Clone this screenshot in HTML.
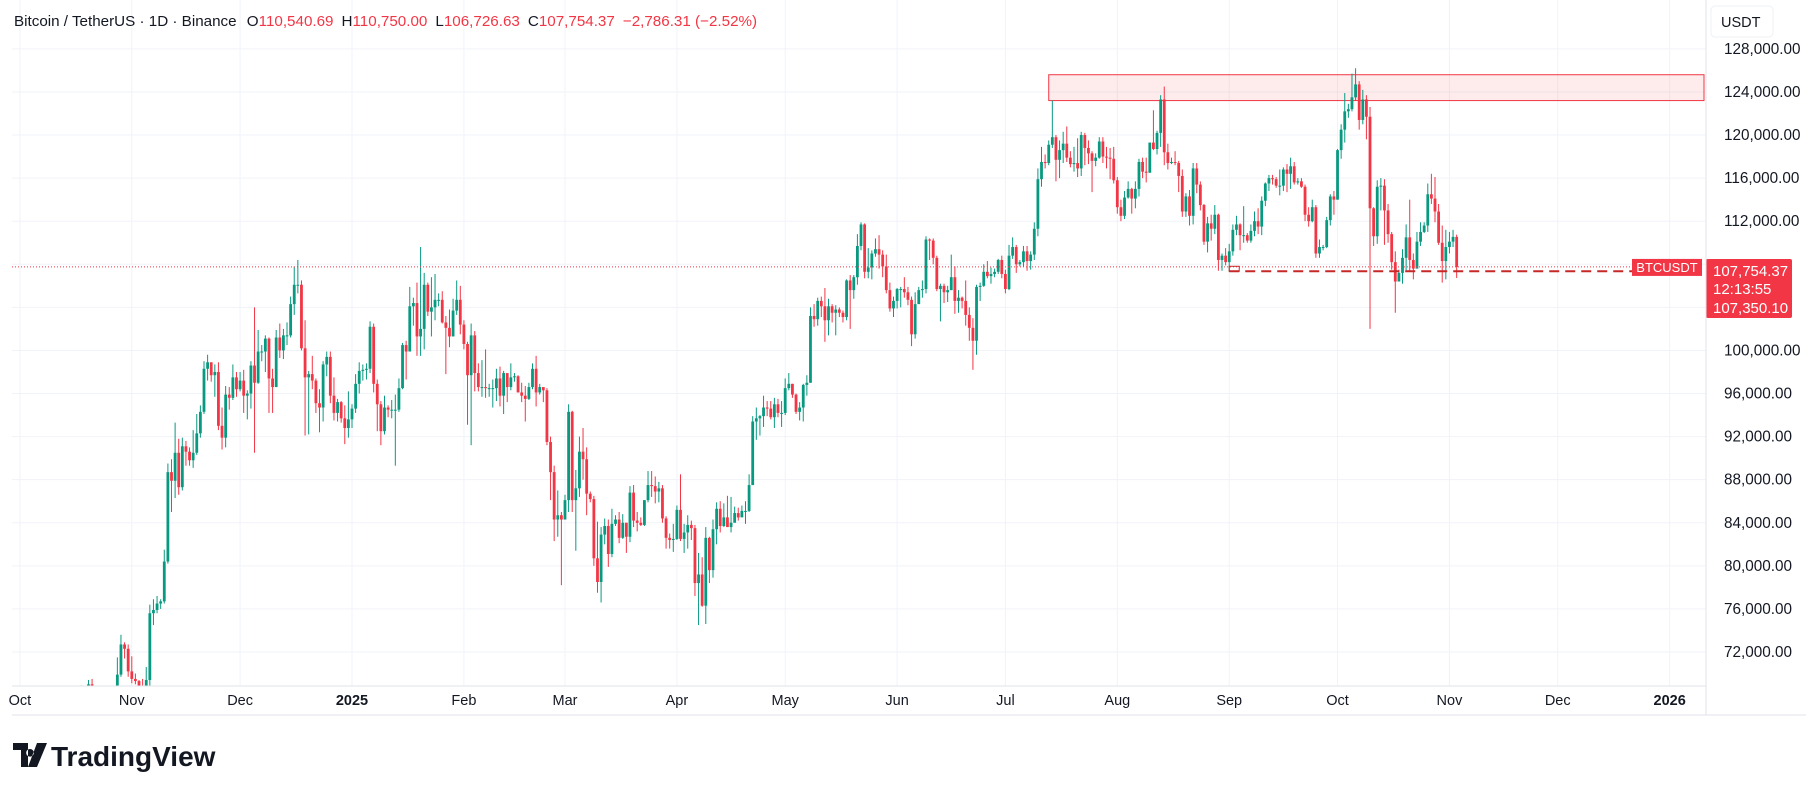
<!DOCTYPE html>
<html><head><meta charset="utf-8"><style>
html,body{margin:0;padding:0;background:#fff;width:1814px;height:791px;overflow:hidden}
svg{display:block;font-family:"Liberation Sans",sans-serif}
</style></head><body>
<svg id="chart" width="1814" height="791" viewBox="0 0 1814 791" xmlns="http://www.w3.org/2000/svg">
<defs><clipPath id="plotClip"><rect x="12" y="0" width="1694" height="686"/></clipPath></defs>
<rect x="0" y="0" width="1814" height="791" fill="#fff"/>
<g id="grid"></g>
<g id="zones" clip-path="url(#plotClip)"></g>
<g id="candles" clip-path="url(#plotClip)"></g>
<g id="overlay"></g>
<line x1="12" y1="715" x2="1806" y2="715" stroke="#e0e3eb"/>
<line x1="1706" y1="0" x2="1706" y2="715" stroke="#e0e3eb"/>
<line x1="12" y1="686" x2="1706" y2="686" stroke="#e0e3eb"/>
<g id="yaxis"></g>
<g id="xaxis"></g>
<text x="14" y="26" font-size="15.2" fill="#131722">Bitcoin / TetherUS · 1D · Binance <tspan dx="6">O</tspan><tspan fill="#f23645">110,540.69</tspan><tspan dx="8">H</tspan><tspan fill="#f23645">110,750.00</tspan><tspan dx="8">L</tspan><tspan fill="#f23645">106,726.63</tspan><tspan dx="8">C</tspan><tspan fill="#f23645">107,754.37</tspan><tspan dx="8" fill="#f23645">−2,786.31 (−2.52%)</tspan></text>
<rect x="1711" y="6" width="62" height="31" rx="4" fill="#fff" stroke="#eef0f4"/>
<text x="1721" y="27" font-size="14.5" fill="#131722">USDT</text>
<g>
<path d="M13 743h15v24h-7v-17h-8z M30 749a3.8 3.8 0 1 0 0.01 0z M37 743h10l-10 24h-9z" fill="#131722"/>
<text x="51" y="766" font-size="28" font-weight="bold" fill="#131722">TradingView</text>
</g>
</svg>
<script>
// start date index (days from 2025-01-01) of first candle = 2024-10-14
const startDay = -79;
const closes = [
66.0,67.0,67.6,67.4,68.4,68.4,69.0,67.4,67.4,66.7,68.2,66.6,67.0,67.9,69.9,72.7,72.3,70.2,
69.5,69.3,68.7,67.8,69.4,75.6,75.9,76.5,76.7,80.4,88.7,87.9,90.5,87.3,91.1,90.6,89.8,90.5,92.3,94.3,98.3,98.9,97.7,98.0,93.0,91.9,95.9,95.6,97.5,96.4,
97.2,95.8,96.0,98.6,97.0,99.9,99.9,101.1,97.4,96.6,101.2,100.0,101.4,101.4,104.3,106.1,106.1,100.2,97.5,97.8,97.2,95.1,94.7,98.7,99.4,95.8,94.2,95.2,93.7,92.8,93.6,
94.6,96.9,98.1,98.2,98.3,102.2,96.9,95.0,92.5,94.7,94.5,94.5,94.5,96.5,100.5,99.9,104.1,104.4,101.3,102.0,106.1,103.6,104.0,104.7,104.7,102.6,102.1,101.3,103.7,104.7,102.4,
100.6,97.7,101.4,97.9,96.6,96.6,96.5,96.5,96.5,97.4,95.8,97.9,96.6,97.5,97.6,96.1,95.8,95.5,96.6,98.3,96.1,96.6,96.3,91.5,88.7,84.3,84.7,84.3,
86.1,94.3,86.1,87.2,90.6,89.9,86.7,86.2,80.7,78.5,82.9,83.7,81.1,83.9,84.3,82.6,84.0,82.7,86.8,84.2,84.0,83.8,86.1,87.5,87.4,86.9,87.2,84.4,82.6,82.4,82.5,
85.2,82.5,83.1,83.8,83.5,78.4,79.2,76.3,82.6,79.6,83.4,85.3,83.7,84.5,83.6,84.0,84.9,84.5,85.1,85.1,87.5,93.4,93.7,93.9,94.7,94.6,93.8,95.0,94.2,94.2,
96.5,96.9,95.9,94.3,94.7,96.8,97.0,103.2,102.9,104.6,104.1,102.8,104.1,103.5,103.8,103.5,103.1,106.5,105.6,106.8,109.7,111.7,107.3,107.7,109.0,109.4,108.9,107.8,105.6,103.9,104.6,
105.7,105.7,105.4,104.7,101.5,104.3,105.6,105.7,110.3,110.2,108.6,105.7,106.0,105.4,105.6,106.8,104.6,104.9,104.6,103.3,102.1,100.9,105.9,106.0,107.3,106.9,107.1,107.3,108.4,107.1,
105.7,108.8,109.6,108.0,108.2,109.2,108.3,108.9,111.3,115.9,117.5,117.4,119.1,119.8,117.7,118.6,119.2,117.9,117.3,117.4,116.9,120.0,118.8,118.3,117.6,117.9,119.4,118.0,117.9,117.8,115.8,
113.3,112.5,114.2,115.0,114.1,115.0,117.5,116.6,116.5,119.3,118.7,120.2,123.3,118.4,117.4,117.5,117.4,116.2,112.9,114.3,112.5,116.9,115.4,113.5,110.1,111.8,111.3,112.6,108.4,108.8,108.2,
109.2,111.2,111.7,110.7,110.7,110.2,111.1,112.0,111.5,113.9,115.5,116.0,115.9,115.3,115.3,116.8,116.4,117.1,115.6,115.7,115.2,112.6,112.0,113.3,109.0,109.6,109.6,112.1,114.3,114.0,
118.6,120.5,122.2,122.4,123.5,124.7,121.4,123.3,121.7,113.2,110.6,115.2,115.3,113.0,110.8,108.2,106.4,107.2,108.6,110.5,108.4,107.6,110.1,111.0,111.6,114.5,114.1,112.9,110.0,108.3,109.6,
110.1,110.54,107.754
];
const highs = [
66.5,67.9,68.4,68.0,68.9,68.7,69.4,69.5,67.8,67.5,68.8,68.8,67.5,68.2,71.5,73.6,72.9,72.7,
71.6,70.0,69.4,69.5,70.6,76.4,76.9,77.2,76.9,81.5,89.5,89.9,93.3,91.8,91.9,91.6,91.0,92.6,94.1,94.9,99.0,99.6,98.9,98.7,98.9,94.7,96.7,96.6,98.7,98.0,
98.0,98.2,96.3,99.0,104.0,101.9,100.5,101.4,101.2,98.3,101.9,102.5,102.0,102.6,105.0,107.8,108.4,106.5,102.8,98.1,99.5,97.4,96.4,99.0,99.9,99.9,97.5,95.5,95.3,94.9,96.2,
95.0,97.8,98.9,98.7,98.8,102.7,102.5,97.3,95.3,95.8,94.9,95.4,95.9,97.4,100.7,100.9,105.9,104.9,106.3,109.6,107.2,106.3,106.8,107.1,105.3,105.5,103.2,103.8,104.8,106.5,106.0,
102.8,100.8,102.5,101.8,98.8,99.1,100.1,96.9,97.3,98.3,98.5,98.1,97.2,98.8,97.9,97.7,97.0,96.7,97.0,98.8,99.5,96.9,96.5,96.5,92.0,89.3,87.0,85.0,
86.6,95.0,94.4,88.9,92.0,92.8,91.0,86.9,86.5,84.1,83.6,84.4,84.3,85.3,84.7,85.0,84.8,84.0,87.4,87.5,85.0,84.5,86.1,88.8,88.8,88.3,87.8,87.5,84.6,83.0,83.9,
85.6,88.5,83.9,84.7,84.2,83.8,81.2,80.8,83.6,82.7,84.3,85.9,86.0,85.8,86.5,86.4,85.5,85.4,85.6,86.0,88.5,93.9,94.7,94.0,95.8,95.3,95.3,95.6,95.5,95.3,
97.4,97.9,96.9,96.0,95.2,96.9,97.7,104.0,104.3,104.9,105.0,105.8,104.8,104.3,104.2,104.0,103.7,106.6,107.0,107.0,110.8,111.9,111.8,109.5,109.3,110.4,110.7,109.3,108.9,106.3,105.0,
105.8,105.9,106.8,105.9,105.0,105.4,105.9,106.5,110.6,110.4,110.4,108.8,106.2,106.2,106.0,108.9,107.8,105.6,105.0,106.5,104.0,103.0,106.1,106.3,108.0,108.3,107.7,107.6,108.5,108.8,
107.5,109.8,110.5,109.8,108.4,109.7,109.7,109.2,111.9,116.9,118.9,118.2,119.5,123.2,120.0,119.5,120.3,120.8,118.5,118.9,119.7,120.3,120.2,119.5,118.5,118.3,119.8,119.8,118.9,118.8,118.9,
116.1,114.0,114.8,115.7,115.1,115.7,117.8,117.9,117.9,119.3,122.3,120.4,123.7,124.5,119.2,117.9,118.5,117.6,116.8,114.6,114.9,117.4,117.4,115.7,113.6,112.4,112.6,113.5,112.7,109.0,109.5,
109.9,111.7,112.5,111.8,113.4,110.9,111.7,112.9,113.2,114.3,115.6,116.3,116.3,116.1,116.8,117.0,117.3,117.9,117.5,116.0,116.0,115.4,113.3,114.0,113.5,110.3,109.8,112.4,114.5,114.8,
118.7,121.0,123.9,122.9,125.7,126.2,125.0,124.2,123.7,122.6,113.3,115.8,116.0,115.9,113.6,111.0,109.2,107.5,109.4,111.7,114.0,109.0,111.0,111.9,111.9,115.5,116.4,116.1,113.6,111.6,111.2,
111.0,111.2,110.75
];
const lows = [
62.5,64.8,66.5,66.7,67.1,67.9,68.2,66.8,66.5,65.3,66.6,65.5,66.4,66.8,67.6,69.7,71.4,69.7,
69.1,69.0,67.5,66.8,67.3,68.8,74.5,75.6,76.0,76.5,80.2,85.0,86.3,86.6,87.0,89.3,89.3,89.1,90.3,91.9,94.1,97.2,97.1,95.7,92.6,90.8,91.0,94.5,95.4,95.7,
96.2,94.2,93.6,94.6,90.5,96.9,99.0,98.0,94.2,94.2,96.6,99.3,99.2,100.5,101.2,103.3,105.3,100.0,92.1,92.2,96.4,94.2,92.4,93.4,97.6,95.1,93.5,93.4,93.3,91.3,91.9,
92.8,94.2,96.0,97.2,97.3,97.9,96.1,92.5,91.2,92.2,93.8,93.7,89.3,94.3,96.4,97.3,99.9,102.3,99.5,99.5,100.1,103.2,101.3,102.8,104.1,102.5,97.8,100.3,101.3,103.3,101.5,
100.1,93.1,91.2,96.2,96.2,95.7,95.6,95.7,94.7,95.3,94.8,94.1,95.2,96.3,97.1,96.1,95.2,93.4,95.4,96.4,94.8,95.9,95.2,91.2,86.1,82.3,82.7,78.2,
84.3,85.0,85.0,81.4,86.4,88.0,84.7,85.9,80.0,77.5,76.6,82.0,79.9,80.8,83.7,82.1,82.5,81.2,82.2,83.6,83.2,83.7,83.7,85.9,86.4,85.8,85.9,84.0,81.6,81.6,81.3,
82.4,82.3,81.2,81.6,82.4,77.2,74.5,76.2,74.6,78.4,78.9,82.0,83.1,83.6,83.6,83.1,84.1,84.2,84.6,83.9,85.0,87.5,91.7,92.1,92.9,93.9,93.6,92.8,93.8,92.9,
94.0,96.3,95.6,94.1,93.5,93.4,95.8,97.0,102.2,102.3,103.1,100.8,101.4,102.6,101.4,103.1,102.6,102.8,102.0,104.8,106.1,109.3,106.7,106.7,106.6,108.7,107.6,106.8,105.3,103.6,103.1,
103.9,104.0,104.9,104.2,100.4,101.1,104.4,104.9,105.3,108.4,108.0,105.5,102.7,104.4,104.5,105.6,103.4,103.5,103.9,102.3,100.9,98.2,99.6,104.6,105.9,106.7,106.2,106.8,107.1,106.7,
105.3,105.6,108.5,107.2,107.8,107.8,107.4,107.5,108.4,110.6,115.2,116.9,117.2,118.8,115.7,116.0,117.4,117.5,117.0,116.6,116.1,116.2,117.2,117.3,114.7,117.1,117.8,117.4,116.9,115.9,115.5,
112.7,112.0,112.2,114.1,112.7,113.2,114.3,116.0,115.6,116.5,118.6,118.2,118.9,117.2,116.8,117.3,117.2,114.7,112.4,112.4,111.6,111.7,114.6,113.0,109.8,109.1,110.2,110.8,107.4,107.4,107.9,
107.3,108.8,110.7,109.3,110.0,110.0,110.0,110.6,110.8,110.7,113.4,114.8,115.4,115.1,114.4,114.8,114.7,115.0,115.4,115.4,115.1,112.0,111.5,111.9,108.6,108.6,109.3,109.5,111.6,112.6,
114.0,117.8,119.3,121.6,122.2,123.2,120.5,121.0,119.6,102.0,109.7,109.9,113.0,109.8,110.0,107.5,103.5,106.4,106.2,107.4,107.4,106.6,107.7,109.7,110.9,111.0,113.6,111.9,109.8,106.3,106.6,
109.0,109.6,106.73
];
const firstOpen = 65.0;
const yTicks = [128,124,120,116,112,108,104,100,96,92,88,84,80,76,72];
const yTickLabels = ["128,000.00","124,000.00","120,000.00","116,000.00","112,000.00","108,000.00","104,000.00","100,000.00","96,000.00","92,000.00","88,000.00","84,000.00","80,000.00","76,000.00","72,000.00"];
const monthDays = [-92,-61,-31,0,31,59,90,120,151,181,212,243,273,304,334,365];
const monthLabels = ["Oct","Nov","Dec","2025","Feb","Mar","Apr","May","Jun","Jul","Aug","Sep","Oct","Nov","Dec","2026"];
const resistanceZone = [123.2, 125.6];
const supportLevel = 107.35;
const lastPrice = 107.754;

const NS = "http://www.w3.org/2000/svg";
const AXIS_X = 1706;
function xOf(d){ return 352 + d*3.61; }
function yOf(p){ return 652 - (p-72)*10.77; }
function mk(tag, attrs, parent){ const e=document.createElementNS(NS,tag); for(const k in attrs) e.setAttribute(k,attrs[k]); parent.appendChild(e); return e; }

const grid=document.getElementById('grid'), yaxis=document.getElementById('yaxis'), xaxis=document.getElementById('xaxis');
yTicks.forEach((p,i)=>{
  const l=mk('line',{x1:12,x2:AXIS_X,y1:yOf(p),y2:yOf(p),stroke:'#f0f3fa','stroke-width':1},grid);
  
  
  if(p===104||p===108) return;
  const t=mk('text',{x:1724,y:yOf(p)+5,'font-size':15.3,fill:'#131722'},yaxis);
  t.textContent=yTickLabels[i];
  
  
});
monthDays.forEach((d,i)=>{
  const x=xOf(d);
  const l=mk('line',{x1:x,x2:x,y1:0,y2:686,stroke:'#f0f3fa','stroke-width':1},grid);
  
  
  const bold = monthLabels[i].length===4;
  const t=mk('text',{x:x,y:705,'font-size':14.5,fill:'#131722','text-anchor':'middle','font-weight':bold?'bold':'normal'},xaxis);
  t.textContent=monthLabels[i];
  
  
});

const zones=document.getElementById('zones');
const zx=xOf(193);
const z=mk('rect',{x:zx,y:yOf(resistanceZone[1]),width:AXIS_X-zx-2,height:yOf(resistanceZone[0])-yOf(resistanceZone[1]),fill:'rgba(242,54,69,0.1)',stroke:'#f23645','stroke-width':1},zones);



const cg=document.getElementById('candles');
let prev=firstOpen;
closes.forEach((c,i)=>{
  const o=prev; prev=c;
  const x=xOf(startDay+i);
  const up=c>=o, col=up?'#089981':'#f23645';
  const w=mk('line',{x1:x,x2:x,y1:yOf(highs[i]),y2:yOf(lows[i]),stroke:col,'stroke-width':1},cg);
  
  
  const top=yOf(Math.max(o,c)), bot=yOf(Math.min(o,c));
  const b=mk('rect',{x:x-1.4,y:top,width:2.8,height:Math.max(1,bot-top),fill:col},cg);
  
  
});

const ov=document.getElementById('overlay');
const ly=yOf(lastPrice), sy=yOf(supportLevel);
const TAG_X = 1632;
const pl=mk('line',{x1:12,x2:TAG_X,y1:ly,y2:ly,stroke:'#f23645','stroke-width':1,'stroke-dasharray':'1 2'},ov);


const sx=xOf(243);
const sb=mk('rect',{x:sx,y:sy-5,width:10,height:5,fill:'none',stroke:'#c62828','stroke-width':1},ov);


const sl=mk('line',{x1:sx,x2:TAG_X,y1:sy,y2:sy,stroke:'#c62828','stroke-width':2,'stroke-dasharray':'10 6'},ov);


const tag=mk('rect',{x:TAG_X,y:ly-8,width:70,height:17,fill:'#f23645'},ov);


const tt=mk('text',{x:TAG_X+35,y:ly+5,'font-size':13,fill:'#fff','text-anchor':'middle'},ov);
tt.textContent='BTCUSDT';


const pt=mk('rect',{x:AXIS_X,y:259,width:86,height:59,rx:2,fill:'#f23645'},ov);


[['107,754.37',276],['12:13:55',294],['107,350.10',313]].forEach(a=>{
  const t=mk('text',{x:AXIS_X+7,y:a[1],'font-size':15,fill:'#fff'},ov);
  t.textContent=a[0];
  
  
});
</script>
</body></html>
